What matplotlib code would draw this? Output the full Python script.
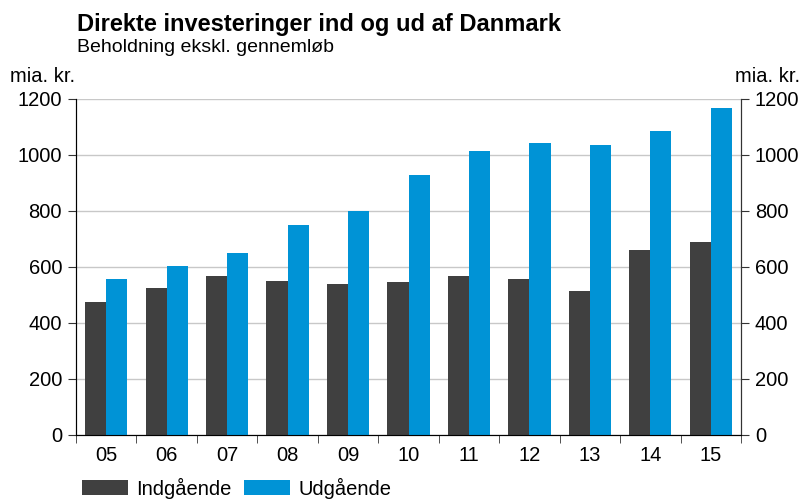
import matplotlib
matplotlib.use('agg')
import matplotlib.pyplot as plt
import numpy as np

plt.rcParams['font.family'] = ['Liberation Sans', 'DejaVu Sans']

years = ['05', '06', '07', '08', '09', '10', '11', '12', '13', '14', '15']
indgaaende = [475, 525, 568, 550, 539, 546, 568, 557, 514, 661, 689]
udgaaende = [557, 604, 650, 750, 800, 929, 1014, 1043, 1036, 1086, 1168]

dark = '#404040'
blue = '#0093d6'

fig = plt.figure(figsize=(8.06, 5.0), dpi=100)
ax = fig.add_axes([76/806, 1-435/500, (741-76)/806, (435-99)/500])

x = np.arange(len(years))
w = 0.35
ax.bar(x - w/2, indgaaende, w, color=dark, label='Indgående', zorder=3)
ax.bar(x + w/2, udgaaende, w, color=blue, label='Udgående', zorder=3)

ax.set_xlim(-0.5, len(years) - 0.5)
ax.set_ylim(0, 1200)
ax.set_yticks(np.arange(0, 1201, 200))
ax.yaxis.grid(True, color='#c8c8c8', linewidth=1, zorder=0)
ax.set_axisbelow(True)

ax.set_xticks(x)
ax.set_xticklabels(years, fontsize=14.5)
ax.set_xticks(np.arange(-0.5, len(years), 1), minor=True)
ax.tick_params(axis='x', which='major', length=0, pad=8)
ax.tick_params(axis='x', which='minor', length=6, direction='out', color='#333333')
ax.tick_params(axis='y', labelsize=14.5, length=6, direction='out', color='#333333', pad=4)

ax.spines['top'].set_visible(False)
for s in ['left', 'right', 'bottom']:
    ax.spines[s].set_color('#333333')

ax2 = ax.twinx()
ax2.set_ylim(0, 1200)
ax2.set_yticks(np.arange(0, 1201, 200))
ax2.tick_params(axis='y', labelsize=14.5, length=6, direction='out', color='#333333', pad=4)
ax2.spines['top'].set_visible(False)
ax2.spines['right'].set_color('#333333')

fig.text(77/806, 1-24/500, 'Direkte investeringer ind og ud af Danmark',
         fontsize=17, fontweight='bold', va='center', ha='left')
fig.text(77/806, 1-48/500, 'Beholdning ekskl. gennemløb',
         fontsize=14, va='center', ha='left')
fig.text(10/806, 1-76/500, 'mia. kr.', fontsize=14.5, va='center', ha='left')
fig.text(800/806, 1-76/500, 'mia. kr.', fontsize=14.5, va='center', ha='right')

fig.legend(loc='center left', bbox_to_anchor=(80/806, 1-488/500), ncol=2, frameon=False,
           fontsize=14.5, handlelength=2.3, handleheight=0.7, handletextpad=0.4,
           columnspacing=0.6, borderaxespad=0.0, borderpad=0.1)

fig.savefig('out.png', dpi=100)
